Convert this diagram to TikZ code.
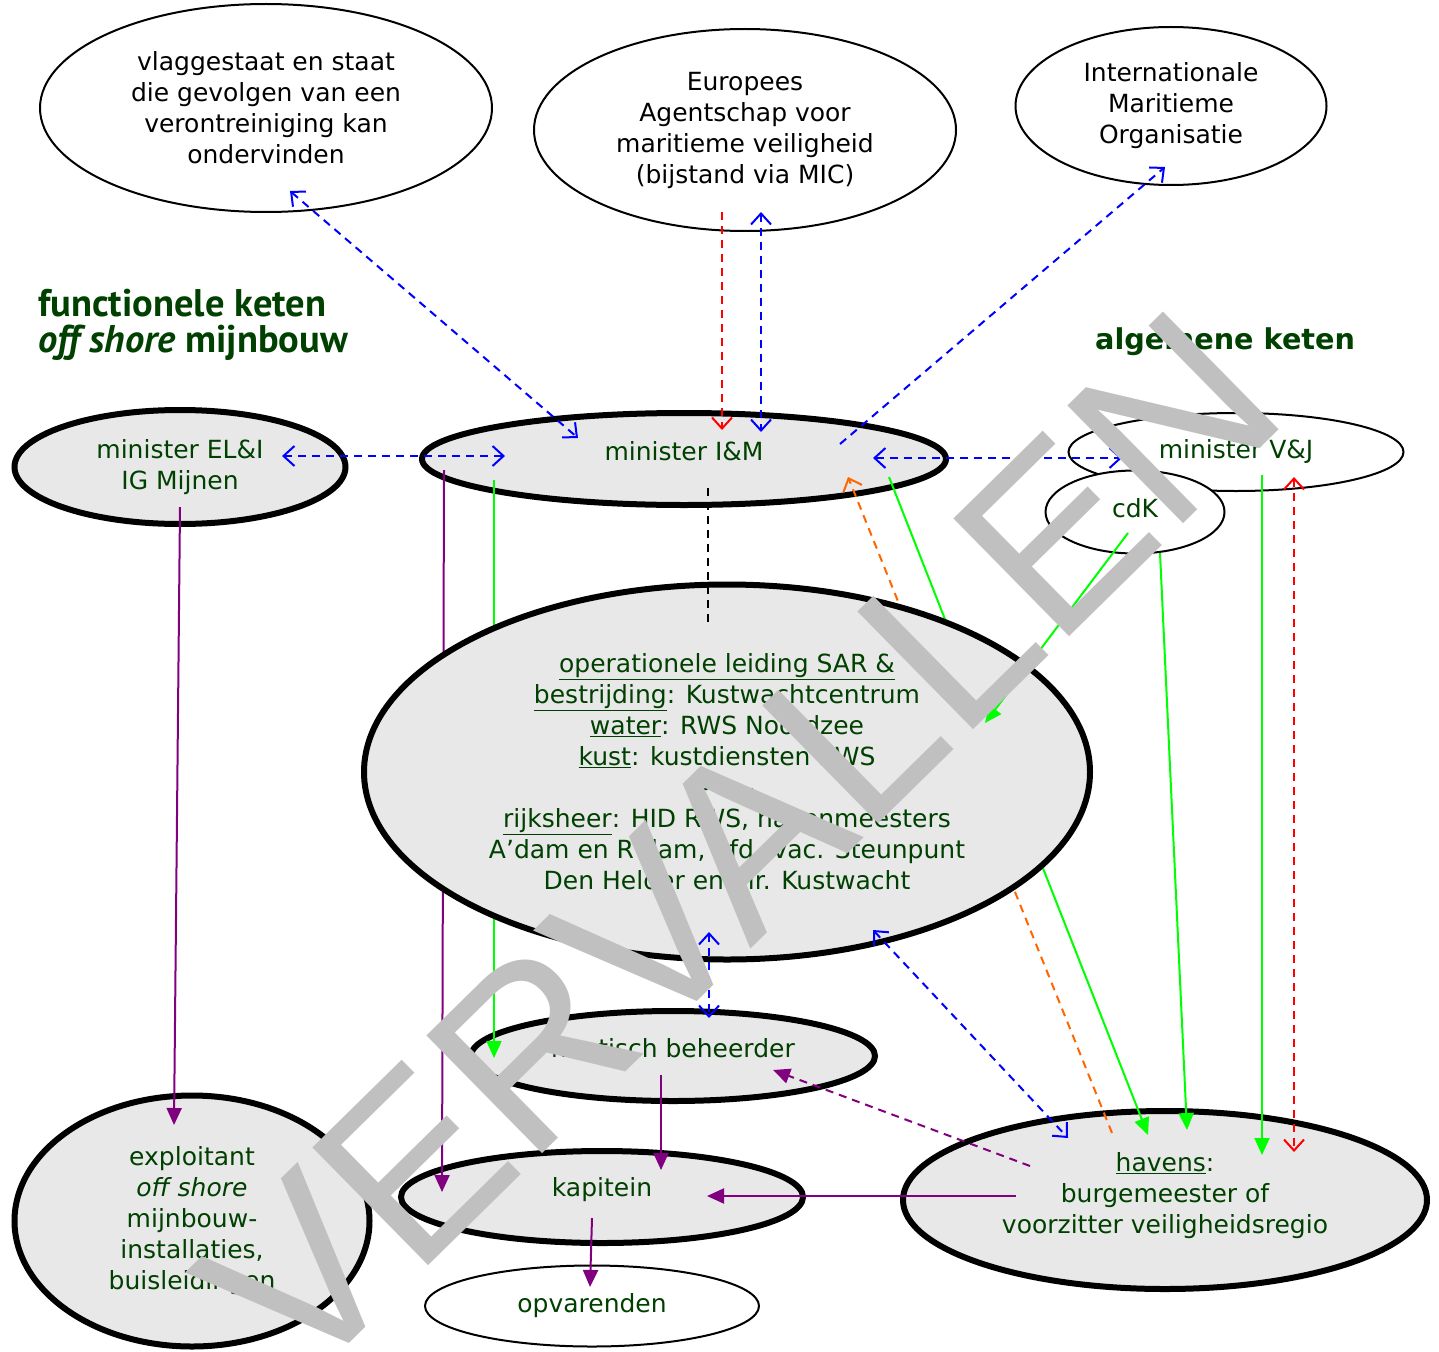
\documentclass[tikz,border=0pt]{standalone}
\usepackage{fontspec}
\setmainfont{DejaVu Sans}
\newfontfamily\titelfont{PT Sans}
\newfontfamily\stempelfont{Liberation Sans}
\usetikzlibrary{arrows.meta,shapes.geometric}

\definecolor{keten}{RGB}{0,64,0}
\definecolor{vulling}{RGB}{232,232,232}
\definecolor{paars}{RGB}{128,0,128}
\definecolor{oranje}{RGB}{255,102,0}
\definecolor{fel}{RGB}{0,255,0}
\definecolor{stempelgrijs}{RGB}{192,192,192}

\begin{document}
\begin{tikzpicture}[%
        x=1pt,
        y=-1pt,
        font=\fontsize{25}{31}\selectfont,
        every node/.style={align=center, inner sep=0pt},
        dik/.style={ellipse, draw, line width=6pt, fill=vulling, text=keten},
        dun/.style={ellipse, draw, line width=2pt, fill=white, text=keten},
        stip/.style={line width=2pt, dash pattern=on 8pt off 6pt,
                     >={Straight Barb[length=11pt,width=20pt]}},
        vol/.style={line width=2pt, >={Triangle[length=17pt,width=15pt]}},
        titel/.style={anchor=base west, text=keten}
        ]

        \clip (0,0) rectangle (1439,1351);

        \node[dun, text=black, minimum width=452, minimum height=208] (VS) at (266,108)
             {vlaggestaat en staat\\die gevolgen van een\\verontreiniging kan\\ondervinden};
        \node[dun, text=black, minimum width=422, minimum height=202] (EA) at (745,130)
             {Europees\\Agentschap voor\\maritieme veiligheid\\(bijstand via MIC)};
        \node[dun, text=black, minimum width=311, minimum height=158] (IMO) at (1171,106)
             {Internationale\\Maritieme\\Organisatie};

        \node[titel, font=\titelfont\bfseries\fontsize{38.5}{37}\selectfont] (functioneel) at (38,316)
             {functionele keten};
        \node[titel, font=\titelfont\bfseries\fontsize{38.5}{37}\selectfont] (mijnbouw) at (38,352)
             {\itshape off shore\/ \upshape mijnbouw};
        \node[titel, font=\bfseries\fontsize{28.7}{31}\selectfont] (algemeen) at (1095,349)
             {algemene keten};

        \node[dik, minimum width=331, minimum height=114] (ELI) at (180,467) {minister EL\&I\\IG Mijnen};
        \node[dik, minimum width=524, minimum height=92, text depth=16pt] (IM) at (684,459) {minister I\&M};
        \node[dun, minimum width=335, minimum height=78, text depth=6pt] (VJ) at (1236,452) {minister V\&J};
        \node[dun, minimum width=179, minimum height=83, text depth=8pt] (CDK) at (1135,512) {cdK};
        \node[dik, minimum width=404, minimum height=90, text depth=16pt] (NB) at (673,1056) {nautisch beheerder};
        \node[dik, minimum width=402, minimum height=92, text depth=20pt] (KAP) at (602,1197) {kapitein};
        \node[dun, minimum width=334, minimum height=81] (OPV) at (592,1306) {opvarenden};
        \node[dik, minimum width=355, minimum height=251] (EXP) at (192,1221)
             {exploitant\\\textit{off shore}\\mijnbouw-\\installaties,\\buisleidingen};
        \node[dik, minimum width=524, minimum height=178, text depth=14pt] (HAV) at (1165,1200)
             {\underline{havens}:\\burgemeester of\\voorzitter veiligheidsregio};

        \draw[vol, fel, ->] ([shift={(-190,21)}]IM.center) -- ([shift={(-179,2)}]NB.center);
        \draw[vol, fel, ->] ([shift={(205,18)}]IM.center) -- ([shift={(-17,-65)}]HAV.center);
        \draw[vol, paars, ->] ([shift={(-240,11)}]IM.center) -- ([shift={(-160,-5)}]KAP.center);
        \draw[stip, oranje, ->] ([shift={(-53,-67)}]HAV.center) -- ([shift={(164,18)}]IM.center);

        \node[dik, minimum width=726, minimum height=375] (OPS) at (727,772)
             {\underline{operationele leiding SAR \&}\\
              \underline{bestrijding}: Kustwachtcentrum\\
              \underline{water}: RWS Noordzee\\
              \underline{kust}: kustdiensten RWS\\
              -{}-{}-{}-{}-{}-\\
              \underline{rijksheer}: HID RWS, havenmeesters\\
              A’dam en R’dam, hfd. vac. Steunpunt\\
              Den Helder en dir. Kustwacht};

        \draw[stip, blue, <->] ([shift={(24,83)}]VS.center) -- ([shift={(-106,-21)}]IM.center);
        \draw[stip, blue, <->] ([shift={(16,82)}]EA.center) -- ([shift={(77,-27)}]IM.center);
        \draw[stip, red, ->] ([shift={(-23,82)}]EA.center) -- ([shift={(38,-29)}]IM.center);
        \draw[stip, blue, ->] ([shift={(156,-15)}]IM.center) -- ([shift={(-6,61)}]IMO.center);
        \draw[stip, blue, <->] ([shift={(102,-11)}]ELI.center) -- ([shift={(-179,-3)}]IM.center);
        \draw[stip, blue, <->] ([shift={(189,-1)}]IM.center) -- ([shift={(-114,6)}]VJ.center);
        \draw[stip, black] ([shift={(24,29)}]IM.center) -- ([shift={(-19,-150)}]OPS.center);
        \draw[stip, blue, <->] ([shift={(-18,160)}]OPS.center) -- ([shift={(36,-38)}]NB.center);
        \draw[stip, blue, <->] ([shift={(146,158)}]OPS.center) -- ([shift={(-97,-62)}]HAV.center);
        \draw[stip, red, <->] ([shift={(58,25)}]VJ.center) -- ([shift={(129,-48)}]HAV.center);

        \draw[vol, fel, ->] ([shift={(-7,21)}]CDK.center) -- ([shift={(258,-49)}]OPS.center);
        \draw[vol, fel, ->] ([shift={(25,41)}]CDK.center) -- ([shift={(22,-70)}]HAV.center);
        \draw[vol, fel, ->] ([shift={(26,23)}]VJ.center) -- ([shift={(97,-45)}]HAV.center);

        \draw[vol, paars, ->] ([shift={(0,40)}]ELI.center) -- ([shift={(-18,-96)}]EXP.center);
        \draw[vol, paars, ->] ([shift={(-12,19)}]NB.center) -- ([shift={(59,-27)}]KAP.center);
        \draw[vol, paars, ->] ([shift={(-149,-4)}]HAV.center) -- ([shift={(105,-1)}]KAP.center);
        \draw[vol, paars, ->] ([shift={(-10,21)}]KAP.center) -- ([shift={(-2,-19)}]OPV.center);
        \draw[vol, paars, dash pattern=on 8pt off 6pt, ->] ([shift={(-135,-34)}]HAV.center)
             -- ([shift={(100,14)}]NB.center);

        \node[rotate=44.5, anchor=base west, text=stempelgrijs,
              font=\stempelfont\fontsize{240}{240}\selectfont] (stempel) at (300,1392) {VERVALLEN};

\end{tikzpicture}
\end{document}
